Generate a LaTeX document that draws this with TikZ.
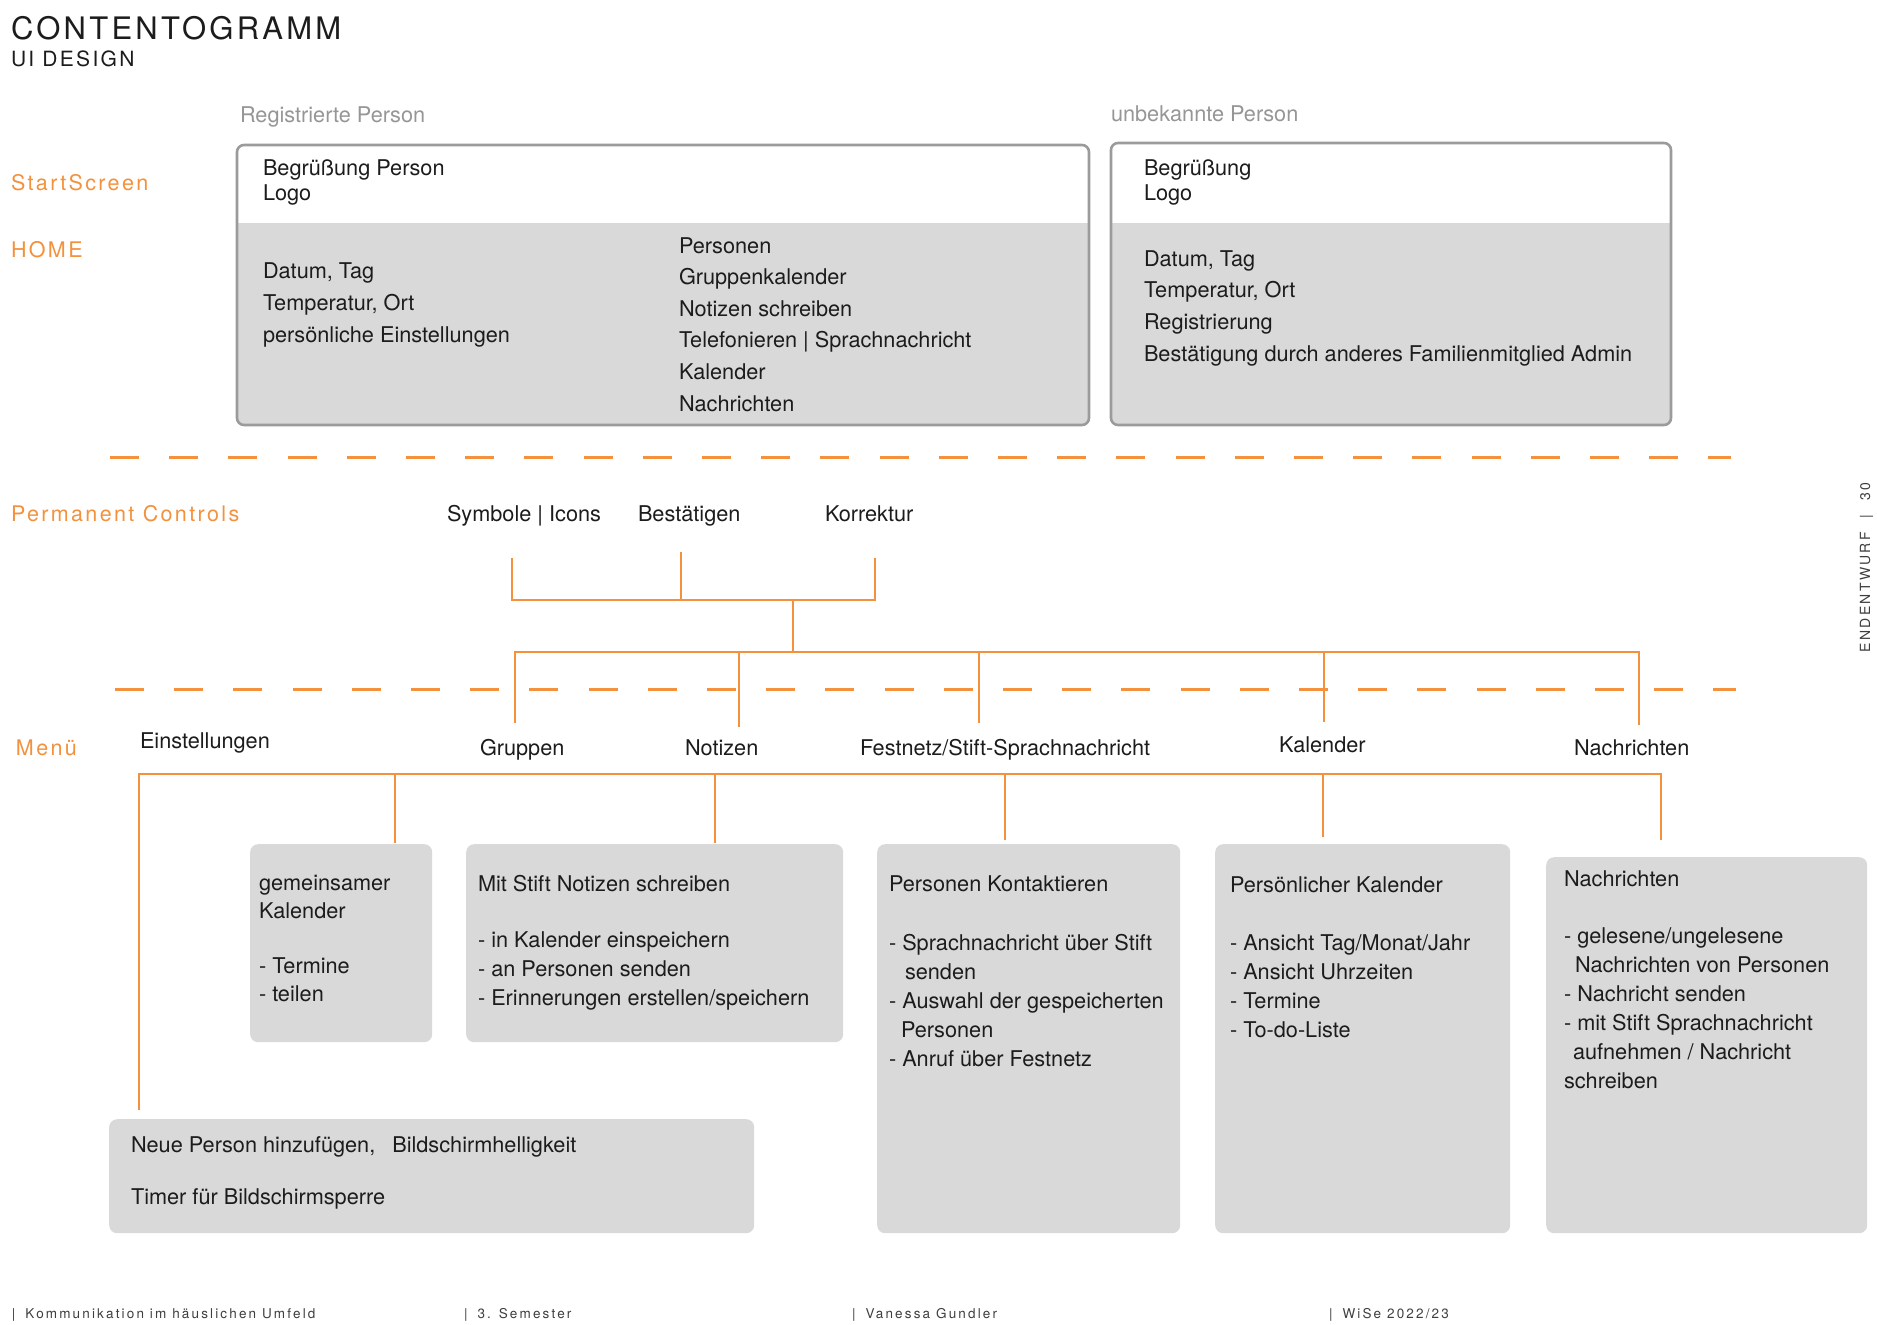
\documentclass[tikz,border=0pt]{standalone}
\usepackage{fontspec}
\setmainfont{TeX Gyre Heros}
\newfontfamily\spacedfont[LetterSpace=11]{TeX Gyre Heros}
\newfontfamily\titlefont[LetterSpace=10.5]{TeX Gyre Heros}
\newfontfamily\footfont[LetterSpace=16]{TeX Gyre Heros}
\definecolor{orangeC}{RGB}{244,145,60}
\definecolor{boxgray}{RGB}{217,217,217}
\definecolor{bordergray}{RGB}{155,155,155}
\definecolor{lgray}{RGB}{150,150,150}
\definecolor{textdark}{RGB}{28,28,28}
\newcommand{\fsz}[2]{\fontsize{#1}{#2}\selectfont}
\newcommand{\txtblock}[2]{{\fsz{21.7}{#1}\begin{tabular}[t]{@{}l@{}}#2\end{tabular}}}
\tikzset{
  txt/.style={inner sep=0pt, outer sep=0pt, anchor=base west, text=textdark, font=\fsz{21.7}{26}},
  olabel/.style={txt, text=orangeC, font=\spacedfont\fsz{21.5}{26}},
  glabel/.style={txt, text=lgray},
  foot/.style={txt, font=\footfont\fsz{13.5}{16}, text=textdark!85},
  conn/.style={draw=orangeC, line width=2.2pt},
  sepline/.style={draw=orangeC, line width=3pt, dash pattern=on 29pt off 30.2pt},
  gbox/.style={fill=boxgray, rounded corners=8pt, inner sep=0pt, anchor=north west},
  topborder/.style={draw=bordergray, line width=2.6pt, rounded corners=7pt},
}
\begin{document}
\begin{tikzpicture}[x=1pt,y=-1pt]
\useasboundingbox (0,0) rectangle (1877,1325);
\fill[white] (0,0) rectangle (1877,1325);

% Title
\node[txt, font=\titlefont\fsz{31}{36}] (title) at (11,39) {CONTENTOGRAMM};
\node[txt, font=\spacedfont\fsz{21}{25}] (subtitle) at (11,66) {UI DESIGN};

% left labels
\node[olabel] (startscreen) at (11,190) {StartScreen};
\node[olabel] (home) at (11,257) {HOME};
\node[olabel] (permctrl) at (11,521) {Permanent Controls};
\node[olabel] (menu) at (16,755) {Menü};

% group labels
\node[glabel] (reglabel) at (240,122) {Registrierte Person};
\node[glabel] (unklabel) at (1111,121) {unbekannte Person};

% top boxes
\begin{scope}
\clip[rounded corners=7pt] (237,145) rectangle (1089,425);
\fill[white] (237,145) rectangle (1089,223);
\fill[boxgray] (237,223) rectangle (1089,425);
\end{scope}
\draw[topborder] (237,145) rectangle (1089,425);
\begin{scope}
\clip[rounded corners=7pt] (1111,143) rectangle (1671,425);
\fill[white] (1111,143) rectangle (1671,223);
\fill[boxgray] (1111,223) rectangle (1671,425);
\end{scope}
\draw[topborder] (1111,143) rectangle (1671,425);

\node[txt] (reghead) at (263,175) {\txtblock{25}{Begrüßung Person\\Logo}};
\node[txt] (regleft) at (263,278) {\txtblock{32}{Datum, Tag\\Temperatur, Ort\\persönliche Einstellungen}};
\node[txt] (regright) at (679,253) {\txtblock{31.6}{Personen\\Gruppenkalender\\Notizen schreiben\\Telefonieren | Sprachnachricht\\Kalender\\Nachrichten}};
\node[txt] (unkhead) at (1144,175) {\txtblock{25}{Begrüßung\\Logo}};
\node[txt] (unkbody) at (1144,266) {\txtblock{31.7}{Datum, Tag\\Temperatur, Ort\\Registrierung\\Bestätigung durch anderes Familienmitglied Admin}};

% separators
\draw[sepline] (110,457) -- (1731,457);
\draw[sepline] (115,689) -- (1736,689);

% permanent controls
\node[txt] (symbole) at (447,521) {Symbole | Icons};
\node[txt] (bestaetigen) at (638,521) {Bestätigen};
\node[txt] (korrektur) at (825,521) {Korrektur};

\coordinate (symT) at (512,558);
\coordinate (besT) at (681,552);
\coordinate (korT) at (875,558);
\coordinate (symB) at (512,600);
\coordinate (besB) at (681,600);
\coordinate (korB) at (875,600);
\coordinate (stemT) at (793,600);
\coordinate (stemB) at (793,652);
\draw[conn] (symT) -- (symB) -- (korB) -- (korT);
\draw[conn] (besT) -- (besB);
\draw[conn] (stemT) -- (stemB);

% distribution line to menu
\coordinate (grpT) at (515,652);
\coordinate (notT) at (739,652);
\coordinate (fesT) at (979,652);
\coordinate (kalT) at (1324,652);
\coordinate (nacT) at (1639,652);
\coordinate (grpB) at (515,723);
\coordinate (notB) at (739,727);
\coordinate (fesB) at (979,723);
\coordinate (kalB) at (1324,722);
\coordinate (nacB) at (1639,725);
\draw[conn] (grpB) -- (grpT) -- (nacT) -- (nacB);
\draw[conn] (notT) -- (notB);
\draw[conn] (fesT) -- (fesB);
\draw[conn] (kalT) -- (kalB);

% menu labels
\node[txt] (einst) at (140,748) {Einstellungen};
\node[txt] (gruppen) at (480,755) {Gruppen};
\node[txt] (notizen) at (685,755) {Notizen};
\node[txt] (festnetz) at (860,755) {Festnetz/Stift-Sprachnachricht};
\node[txt] (kalender) at (1279,752) {Kalender};
\node[txt] (nachrichten) at (1574,755) {Nachrichten};

% menu line
\coordinate (mL) at (139,774);
\coordinate (mR) at (1661,774);
\coordinate (einB) at (139,1110);
\coordinate (gkT) at (395,774);
\coordinate (gkB) at (395,843);
\coordinate (nsT) at (715,774);
\coordinate (nsB) at (715,843);
\coordinate (pkT) at (1005,774);
\coordinate (pkB) at (1005,840);
\coordinate (plT) at (1323,774);
\coordinate (plB) at (1323,837);
\coordinate (nbB) at (1661,840);
\draw[conn] (einB) -- (mL) -- (mR) -- (nbB);
\draw[conn] (gkT) -- (gkB);
\draw[conn] (nsT) -- (nsB);
\draw[conn] (pkT) -- (pkB);
\draw[conn] (plT) -- (plB);

% lower boxes
\node[gbox, minimum width=182pt, minimum height=198pt] (gkbox) at (250,844) {};
\node[gbox, minimum width=377pt, minimum height=198pt] (nsbox) at (466,844) {};
\node[gbox, minimum width=645pt, minimum height=114pt] (einbox) at (109,1119) {};
\node[gbox, minimum width=303pt, minimum height=389pt] (pkbox) at (877,844) {};
\node[gbox, minimum width=295pt, minimum height=389pt] (plbox) at (1215,844) {};
\node[gbox, minimum width=321pt, minimum height=376pt] (nbbox) at (1546,857) {};

\node[txt] (gktext) at (259,890) {\txtblock{28}{gemeinsamer\\Kalender\\[27pt]- Termine\\- teilen}};
\node[txt] (nstext) at (478,891) {\txtblock{29}{Mit Stift Notizen schreiben\\[27pt]- in Kalender einspeichern\\- an Personen senden\\- Erinnerungen erstellen/speichern}};
\node[txt] (eintext) at (131,1152) {\txtblock{26}{Neue Person hinzufügen,\hspace{17pt}Bildschirmhelligkeit\\[26pt]Timer für Bildschirmsperre}};
\node[txt] (pktext) at (889,891) {\txtblock{29}{Personen Kontaktieren\\[30pt]- Sprachnachricht über Stift\\\hspace{16pt}senden\\- Auswahl der gespeicherten\\\hspace{12pt}Personen\\- Anruf über Festnetz}};
\node[txt] (pltext) at (1230,892) {\txtblock{29}{Persönlicher Kalender\\[29pt]- Ansicht Tag/Monat/Jahr\\- Ansicht Uhrzeiten\\- Termine\\- To-do-Liste}};
\node[txt] (nbtext) at (1564,886) {\txtblock{29}{Nachrichten\\[28pt]- gelesene/ungelesene\\\hspace{11pt}Nachrichten von Personen\\- Nachricht senden\\- mit Stift Sprachnachricht\\\hspace{9pt}aufnehmen / Nachricht\\schreiben}};

% footer
\node[foot] (f1) at (12,1318) {|\hspace{10pt}Kommunikation im häuslichen Umfeld};
\node[foot] (f2) at (464,1318) {|\hspace{10pt}3. Semester};
\node[foot] (f3) at (852,1318) {|\hspace{10pt}Vanessa Gundler};
\node[foot] (f4) at (1329,1318) {|\hspace{10pt}WiSe 2022/23};

% side text
\node[foot, rotate=90, font=\footfont\fsz{14}{16}] (side) at (1870,652) {ENDENTWURF\hspace{14pt}|\hspace{14pt}30};
\end{tikzpicture}
\end{document}
